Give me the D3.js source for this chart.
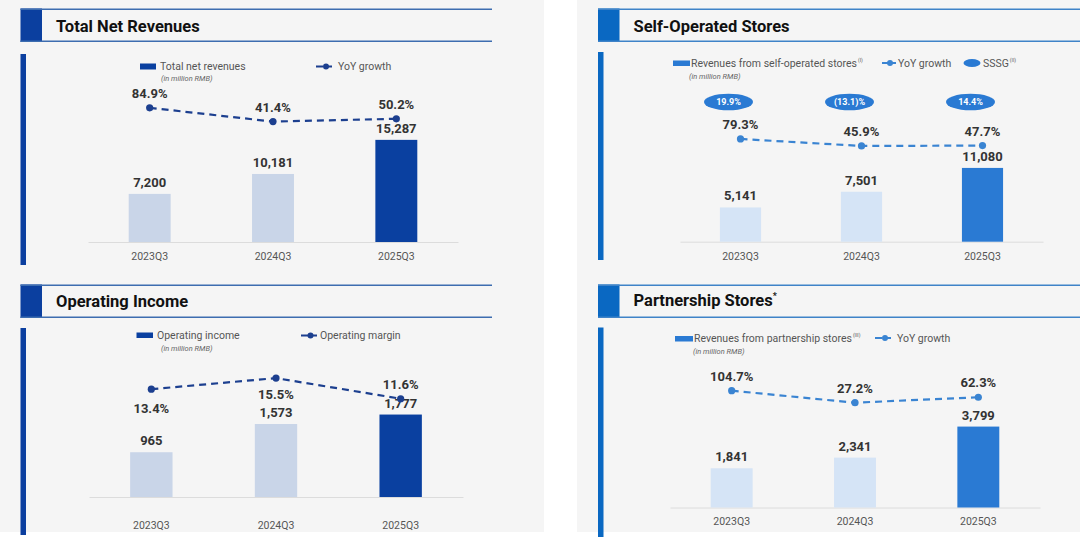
<!DOCTYPE html>
<html>
<head>
<meta charset="utf-8">
<script src="https://cdn.jsdelivr.net/npm/d3@7"></script>
<style>
  html, body { margin: 0; padding: 0; background: #ffffff; }
  svg { display: block; font-family: Roboto, "Noto Sans", sans-serif; }
</style>
</head>
<body>
<svg id="chart" width="1080" height="540"></svg>
<script>
// ---------------- DATA ----------------
const categories = ["2023Q3", "2024Q3", "2025Q3"];
const totalNetRevenues = [7200, 10181, 15287];
const totalYoY = [84.9, 41.4, 50.2];
const operatingIncome = [965, 1573, 1777];
const operatingMargin = [13.4, 15.5, 11.6];
const marginLabelSide = ["below", "below", "above"];
const selfOperatedRevenues = [5141, 7501, 11080];
const selfOperatedYoY = [79.3, 45.9, 47.7];
const sssg = [19.9, -13.1, 14.4];
const partnershipRevenues = [1841, 2341, 3799];
const partnershipYoY = [104.7, 27.2, 62.3];

// ---------------- LAYOUT ----------------
const svg = d3.select("#chart");
const fmtInt = d3.format(",");
const fmtPct = v => v.toFixed(1) + "%";
const fmtSSSG = v => v < 0 ? "(" + Math.abs(v).toFixed(1) + ")%" : v.toFixed(1) + "%";

// panel backgrounds
svg.append("rect").attr("x", 0).attr("y", 0).attr("width", 544).attr("height", 532).attr("fill", "#f5f5f5");
svg.append("rect").attr("x", 577).attr("y", 0).attr("width", 503).attr("height", 532).attr("fill", "#f5f5f5");

const panels = [
  {
    title: "Total Net Revenues", titleSup: null,
    boxX: 20.5, boxY: 8.5, headerRight: 492, titleBase: 31.5,
    barColor: "#0a40a0", lightColor: "#c9d5e8", lineColor: "#1c3f8f",
    sideBar: [20.5, 54, 265],
    xRange: [88, 458], baseline: 242, barMax: 16000, barPx: 106.9,
    lineDomain: [0, 100], lineRange: [134.7, 103.0],
    tickPad: 10.5,
    bars: totalNetRevenues, line: totalYoY, lineSide: null,
    legend: { sw: [140, 63.5, 16, 6], text: "Total net revenues", textX: 160, textY: 70, sup: null,
              sub: [161, 81], lineX: [316, 334], lineY: 66.5, lineText: "YoY growth", lineTextX: 338 }
  },
  {
    title: "Operating Income", titleSup: null,
    boxX: 20.5, boxY: 284.5, headerRight: 492, titleBase: 307,
    barColor: "#0a40a0", lightColor: "#c9d5e8", lineColor: "#1c3f8f",
    sideBar: [20.5, 328, 535],
    xRange: [89, 463], baseline: 497, barMax: 2000, barPx: 92.8,
    lineDomain: [0, 20], lineRange: [460.1, 354.3],
    tickPad: 25,
    bars: operatingIncome, line: operatingMargin, lineSide: marginLabelSide,
    legend: { sw: [136.5, 332.5, 16.5, 5.5], text: "Operating income", textX: 157, textY: 339, sup: null,
              sub: [161, 351], lineX: [301, 318], lineY: 335.5, lineText: "Operating margin", lineTextX: 320 }
  },
  {
    title: "Self-Operated Stores", titleSup: null,
    boxX: 598, boxY: 8.5, headerRight: 1080, titleBase: 31.5,
    barColor: "#2a7ad3", lightColor: "#d5e4f6", lineColor: "#3a84d2",
    sideBar: [598, 52, 260],
    xRange: [680, 1043], baseline: 241.7, barMax: 12000, barPx: 79.9,
    lineDomain: [0, 100], lineRange: [155.6, 134.6],
    tickPad: 10.5,
    bars: selfOperatedRevenues, line: selfOperatedYoY, lineSide: null, sssg: sssg,
    legend: { sw: [673, 60.5, 17, 5.5], text: "Revenues from self-operated stores", textX: 691, textY: 66.5, sup: "(I)",
              sub: [689, 79], lineX: [882, 896], lineY: 63, lineText: "YoY growth", lineTextX: 898,
              sssgX: 972, sssgText: "SSSG", sssgTextX: 983, sssgSup: "(II)" }
  },
  {
    title: "Partnership Stores", titleSup: "*",
    boxX: 598, boxY: 284.5, headerRight: 1080, titleBase: 305.5,
    barColor: "#2a7ad3", lightColor: "#d5e4f6", lineColor: "#3a84d2",
    sideBar: [598, 327.5, 537],
    xRange: [670, 1040], baseline: 507.5, barMax: 4000, barPx: 85.2,
    lineDomain: [0, 100], lineRange: [406.9, 391.4],
    tickPad: 10.5,
    bars: partnershipRevenues, line: partnershipYoY, lineSide: null,
    legend: { sw: [675, 336, 18, 5.5], text: "Revenues from partnership stores", textX: 694, textY: 341.5, sup: "(III)",
              sub: [693, 354], lineX: [875, 893], lineY: 338, lineText: "YoY growth", lineTextX: 897 }
  }
];

function drawPanel(p) {
  const g = svg.append("g");
  const boxColor = p.barColor === "#0a40a0" ? "#0b3f9f" : "#0a68c2";
  const headLine = p.barColor === "#0a40a0" ? "#3d6db0" : "#3f83c8";

  // header
  g.append("rect").attr("x", p.boxX).attr("y", p.boxY).attr("width", 21.5).attr("height", 33.5).attr("fill", boxColor);
  g.append("line").attr("x1", p.boxX).attr("x2", p.headerRight).attr("y1", p.boxY + 0.8).attr("y2", p.boxY + 0.8)
    .attr("stroke", headLine).attr("stroke-width", 1.6);
  g.append("line").attr("x1", p.boxX).attr("x2", p.headerRight).attr("y1", p.boxY + 32.7).attr("y2", p.boxY + 32.7)
    .attr("stroke", headLine).attr("stroke-width", 1.6);
  const t = g.append("text").attr("x", p.boxX + 35.5).attr("y", p.titleBase)
    .attr("font-size", 16.5).attr("font-weight", 700).attr("fill", "#111").text(p.title);
  if (p.titleSup) t.append("tspan").attr("font-size", 9).attr("dy", -7).text(p.titleSup);

  // side bar
  g.append("rect").attr("x", p.sideBar[0]).attr("y", p.sideBar[1]).attr("width", 5.5)
    .attr("height", p.sideBar[2] - p.sideBar[1]).attr("fill", boxColor);

  // legend
  const L = p.legend;
  g.append("rect").attr("x", L.sw[0]).attr("y", L.sw[1]).attr("width", L.sw[2]).attr("height", L.sw[3]).attr("fill", p.barColor);
  const lt = g.append("text").attr("x", L.textX).attr("y", L.textY).attr("font-size", 10.5).attr("fill", "#555").text(L.text);
  if (L.sup) lt.append("tspan").attr("font-size", 5).attr("dy", -5).attr("dx", 1).text(L.sup);
  g.append("text").attr("x", L.sub[0]).attr("y", L.sub[1]).attr("font-size", 7.5).attr("font-style", "italic")
    .attr("fill", "#666").text("(in million RMB)");
  g.append("line").attr("x1", L.lineX[0]).attr("x2", L.lineX[1]).attr("y1", L.lineY).attr("y2", L.lineY)
    .attr("stroke", p.lineColor).attr("stroke-width", 2).attr("stroke-dasharray", "7,2");
  g.append("circle").attr("cx", (L.lineX[0] + L.lineX[1]) / 2 + 1).attr("cy", L.lineY).attr("r", 3).attr("fill", p.lineColor);
  g.append("text").attr("x", L.lineTextX).attr("y", L.lineY + 3.7).attr("font-size", 10.5).attr("fill", "#555").text(L.lineText);
  if (L.sssgX) {
    g.append("ellipse").attr("cx", L.sssgX).attr("cy", L.lineY).attr("rx", 8.5).attr("ry", 4).attr("fill", p.barColor);
    const st = g.append("text").attr("x", L.sssgTextX).attr("y", L.lineY + 3.7).attr("font-size", 10.5).attr("fill", "#555").text(L.sssgText);
    st.append("tspan").attr("font-size", 5).attr("dy", -5).attr("dx", 1).text(L.sssgSup);
  }

  // scales
  const x = d3.scaleBand().domain(categories).range(p.xRange).paddingInner(0.66).paddingOuter(0.33);
  const y = d3.scaleLinear().domain([0, p.barMax]).range([p.baseline, p.baseline - p.barPx]);
  const yl = d3.scaleLinear().domain(p.lineDomain).range(p.lineRange);
  const cx = c => x(c) + x.bandwidth() / 2;

  // axis
  const ax = g.append("g").attr("transform", `translate(0,${p.baseline})`)
    .call(d3.axisBottom(x).tickSize(0).tickSizeOuter(0).tickPadding(p.tickPad));
  ax.select(".domain").attr("stroke", "#dcdcdc").attr("stroke-width", 1);
  ax.selectAll(".tick text").attr("font-size", 10.5).attr("fill", "#555").attr("font-family", "Roboto, sans-serif");

  // bars
  g.selectAll(".bar").data(p.bars).enter().append("rect")
    .attr("x", (d, i) => x(categories[i]))
    .attr("y", d => y(d))
    .attr("width", x.bandwidth())
    .attr("height", d => p.baseline - y(d))
    .attr("fill", (d, i) => i === categories.length - 1 ? p.barColor : p.lightColor);

  g.selectAll(".barlab").data(p.bars).enter().append("text")
    .attr("x", (d, i) => cx(categories[i]))
    .attr("y", d => y(d) - 7)
    .attr("text-anchor", "middle").attr("font-size", 13).attr("font-weight", 700).attr("fill", "#333")
    .text(d => fmtInt(d));

  // line
  const line = d3.line().x((d, i) => cx(categories[i])).y(d => yl(d));
  g.append("path").datum(p.line).attr("d", line).attr("fill", "none")
    .attr("stroke", p.lineColor).attr("stroke-width", 2.2).attr("stroke-dasharray", "7,5");
  g.selectAll(".dot").data(p.line).enter().append("circle")
    .attr("cx", (d, i) => cx(categories[i])).attr("cy", d => yl(d)).attr("r", 3.6).attr("fill", p.lineColor);
  g.selectAll(".pctlab").data(p.line).enter().append("text")
    .attr("x", (d, i) => cx(categories[i]))
    .attr("y", (d, i) => (p.lineSide && p.lineSide[i] === "below") ? yl(d) + (i === 0 ? 24 : 21) : yl(d) - 10)
    .attr("text-anchor", "middle").attr("font-size", 13).attr("font-weight", 700).attr("fill", "#333")
    .text(d => fmtPct(d));

  // SSSG ellipses
  if (p.sssg) {
    const eg = g.selectAll(".sssg").data(p.sssg).enter().append("g")
      .attr("transform", (d, i) => `translate(${cx(categories[i]) - 12},102)`);
    eg.append("ellipse").attr("rx", 24.5).attr("ry", 8.3).attr("fill", p.barColor);
    eg.append("text").attr("text-anchor", "middle").attr("y", 3.2).attr("font-size", 9).attr("font-weight", 700)
      .attr("fill", "#fff").text(d => fmtSSSG(d));
  }
}

panels.forEach(drawPanel);
</script>
</body>
</html>
